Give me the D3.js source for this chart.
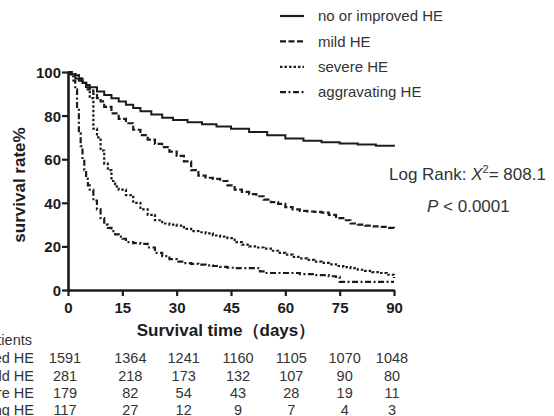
<!DOCTYPE html>
<html>
<head>
<meta charset="utf-8">
<script src="https://cdn.jsdelivr.net/npm/d3@7"></script>
<style>
	body { margin: 0; background: #fff; }
	svg { font-family: 'Liberation Sans', Arial, sans-serif; }
</style>
</head>
<body>
<script>
// survival curves (days, survival %)
const noneTime = [0, 1, 2, 3, 4, 5, 6, 8, 10, 12, 14, 16, 18, 20, 23, 26, 29, 33, 37, 41, 45, 50, 55, 60, 65, 70, 75, 80, 85, 90];
const noneRate = [100, 99, 97, 96, 95, 94, 93, 91, 89.5, 88, 86.5, 85, 83.5, 82, 80.5, 79, 78, 77, 76, 75, 74, 72.5, 71, 69.5, 68.5, 67.8, 67.2, 66.7, 66.2, 65.8];

const mildTime = [0, 1, 2, 3, 4, 5, 6, 7, 8, 9, 10, 12, 14, 16, 18, 20, 22, 24, 26, 28, 30, 32, 34, 36, 38, 40, 42, 44, 46, 48, 50, 52, 54, 56, 58, 60, 62, 64, 66, 68, 70, 72, 74, 76, 78, 80, 82, 84, 86, 88, 90];
const mildRate = [100, 99, 98.5, 97, 95, 93, 91.5, 90, 88, 86.5, 84, 81, 78.5, 76.5, 73.5, 71, 69, 67, 65.5, 63.5, 61.5, 59, 55, 52.5, 51.5, 51, 50, 48, 46, 45, 44, 43, 41.5, 40.3, 39.5, 38, 37, 36.3, 36, 35.8, 35.5, 34.5, 33, 32, 30.5, 30, 29.5, 29.2, 29, 28.5, 28.2];

const severeTime = [0, 1, 2, 3, 4, 5, 6, 7, 8, 9, 10, 11, 12, 13, 14, 16, 18, 20, 22, 24, 26, 28, 30, 32, 34, 36, 38, 40, 42, 44, 46, 48, 50, 52, 54, 56, 58, 60, 62, 64, 66, 68, 70, 72, 74, 76, 78, 80, 82, 84, 86, 88, 90];
const severeRate = [100, 99, 98.5, 97, 95, 92, 88, 74, 70, 64, 58, 55, 50, 47.5, 46, 43.5, 40, 37, 34.5, 32, 30.5, 30, 29.5, 28, 27, 26.5, 26, 25, 24.5, 23.8, 22, 20.8, 20, 19.5, 19, 18, 17, 16.2, 15.2, 14.5, 13.8, 13, 12.4, 11.8, 11, 10.5, 10, 9.3, 8.8, 8.2, 7.8, 7, 5.5];

const aggrTime = [0, 0.5, 1, 1.5, 2, 2.5, 3, 3.5, 4, 4.5, 5, 5.5, 6, 7, 8, 9, 10, 11, 12, 13, 14, 15, 16, 18, 20, 22, 24, 26, 28, 30, 32, 34, 36, 38, 40, 42, 44, 46, 52, 53, 54, 60, 64, 68, 72, 74, 75, 90];
const aggrRate = [100, 99, 98, 96, 92, 84, 72, 66, 60, 55, 51, 48, 46, 41, 37, 33, 30, 28.5, 27, 25.5, 24.5, 23.5, 22, 21.5, 21.2, 19.5, 17, 15.5, 14.2, 13, 12.3, 12, 11.6, 11.3, 11, 10.6, 10.2, 10, 10, 8.5, 7.8, 7.8, 7.3, 6.8, 6.3, 6, 3.7, 3.7];

const groupNames = ['no or improved HE', 'mild HE', 'severe HE', 'aggravating HE'];
const riskDays = [0, 15, 30, 45, 60, 75, 90];
const noneRisk = [1591, 1364, 1241, 1160, 1105, 1070, 1048];
const mildRisk = [281, 218, 173, 132, 107, 90, 80];
const severeRisk = [179, 82, 54, 43, 28, 19, 11];
const aggrRisk = [117, 27, 12, 9, 7, 4, 3];
const xTicks = [0, 15, 30, 45, 60, 75, 90];
const yTicks = [0, 20, 40, 60, 80, 100];

const width = 554;
const height = 416;
const ink = '#1c1c1c';
const dashes = [null, '6,2.5', '2.5,2', '6,2.5,2,2.5'];

const groups = [
	{ name: groupNames[0], time: noneTime, rate: noneRate, risk: noneRisk },
	{ name: groupNames[1], time: mildTime, rate: mildRate, risk: mildRisk },
	{ name: groupNames[2], time: severeTime, rate: severeRate, risk: severeRisk },
	{ name: groupNames[3], time: aggrTime, rate: aggrRate, risk: aggrRisk }
];

const svg = d3.select('body').append('svg').attr('width', width).attr('height', height);

const xScale = d3.scaleLinear().domain([ 0, 90 ]).range([ 68, 394 ]);
const yScale = d3.scaleLinear().domain([ 0, 100 ]).range([ 290, 72 ]);

const line = d3
	.line()
	.x((d) => xScale(d[0]))
	.y((d) => yScale(d[1]))
	.curve(d3.curveStepAfter);

svg
	.selectAll('path.curve')
	.data(groups)
	.enter()
	.append('path')
	.attr('class', 'curve')
	.attr('d', (g) => line(g.time.map((t, i) => [ t, g.rate[i] ])))
	.attr('fill', 'none')
	.attr('stroke', ink)
	.attr('stroke-width', (g, i) => (i === 0 ? 2 : 2.2))
	.attr('stroke-dasharray', (g, i) => dashes[i]);

// axes
const xAxis = d3.axisBottom(xScale).tickValues(xTicks).tickSize(6).tickPadding(3).tickSizeOuter(0);
const yAxis = d3.axisLeft(yScale).tickValues(yTicks).tickSize(6).tickPadding(1).tickSizeOuter(0);

const gx = svg.append('g').attr('transform', `translate(0, ${yScale(0)})`).call(xAxis);
const gy = svg.append('g').attr('transform', `translate(${xScale(0)}, 0)`).call(yAxis);

[ gx, gy ].forEach((g) => {
	g.select('.domain').attr('stroke', ink).attr('stroke-width', 2.6);
	g.selectAll('.tick line').attr('stroke', ink).attr('stroke-width', 2.2);
	g
		.selectAll('.tick text')
		.attr('fill', ink)
		.style('font-size', '15px')
		.style('font-weight', 'bold')
		.style('font-family', "'Liberation Sans', Arial, sans-serif");
});
gx.selectAll('.tick text').attr('dy', '0.9em');
gy.selectAll('.tick text').attr('dy', '0.36em');

svg
	.append('text')
	.attr('transform', `translate(25, ${(yScale(0) + yScale(100)) / 2 + 4}) rotate(-90)`)
	.attr('text-anchor', 'middle')
	.attr('fill', ink)
	.style('font-size', '17px')
	.style('font-weight', 'bold')
	.text('survival rate%');

svg
	.append('text')
	.attr('x', 226)
	.attr('y', 336)
	.attr('text-anchor', 'middle')
	.attr('fill', ink)
	.style('font-size', '17px')
	.style('font-weight', 'bold')
	.text('Survival time（days）');

// legend
const legend = svg.append('g').attr('transform', 'translate(280, 16)');
const legendRow = legend
	.selectAll('g')
	.data(groups)
	.enter()
	.append('g')
	.attr('transform', (d, i) => `translate(0, ${i * 25.4})`);
legendRow
	.append('line')
	.attr('x1', 0)
	.attr('x2', 24)
	.attr('stroke', ink)
	.attr('stroke-width', 2.2)
	.attr('stroke-dasharray', (d, i) => dashes[i]);
legendRow
	.append('text')
	.attr('x', 38)
	.attr('dy', '0.35em')
	.attr('fill', '#333')
	.style('font-size', '15px')
	.text((d) => d.name);

// log rank
const stat = svg.append('text').attr('x', 389).attr('y', 180).attr('fill', '#333').style('font-size', '17px');
stat.append('tspan').text('Log Rank: ');
stat.append('tspan').style('font-style', 'italic').text('X');
stat.append('tspan').attr('dy', -7).style('font-size', '11px').text('2');
stat.append('tspan').attr('dy', 7).text('= 808.1');

const pval = svg.append('text').attr('x', 427).attr('y', 212).attr('fill', '#333').style('font-size', '17px');
pval.append('tspan').style('font-style', 'italic').text('P');
pval.append('tspan').text(' < 0.0001');

// numbers at risk
const colShift = [ -3, 8, 7, 7, 6, 5, -2 ];
const rowY = [ 363, 380.5, 398, 415 ];

svg
	.append('text')
	.attr('x', 32)
	.attr('y', 345)
	.attr('text-anchor', 'end')
	.attr('fill', '#333')
	.style('font-size', '14.5px')
	.text('Number of patients');

const riskRow = svg
	.selectAll('g.risk')
	.data(groups)
	.enter()
	.append('g')
	.attr('class', 'risk')
	.attr('transform', (d, i) => `translate(0, ${rowY[i]})`);
riskRow
	.append('text')
	.attr('x', 34)
	.attr('text-anchor', 'end')
	.attr('fill', '#333')
	.style('font-size', '14.5px')
	.text((d) => d.name);
riskRow
	.selectAll('text.n')
	.data((d) => d.risk)
	.enter()
	.append('text')
	.attr('class', 'n')
	.attr('x', (d, i) => xScale(riskDays[i]) + colShift[i])
	.attr('text-anchor', 'middle')
	.attr('fill', '#333')
	.style('font-size', '14.5px')
	.text((d) => d);
</script>
</body>
</html>
